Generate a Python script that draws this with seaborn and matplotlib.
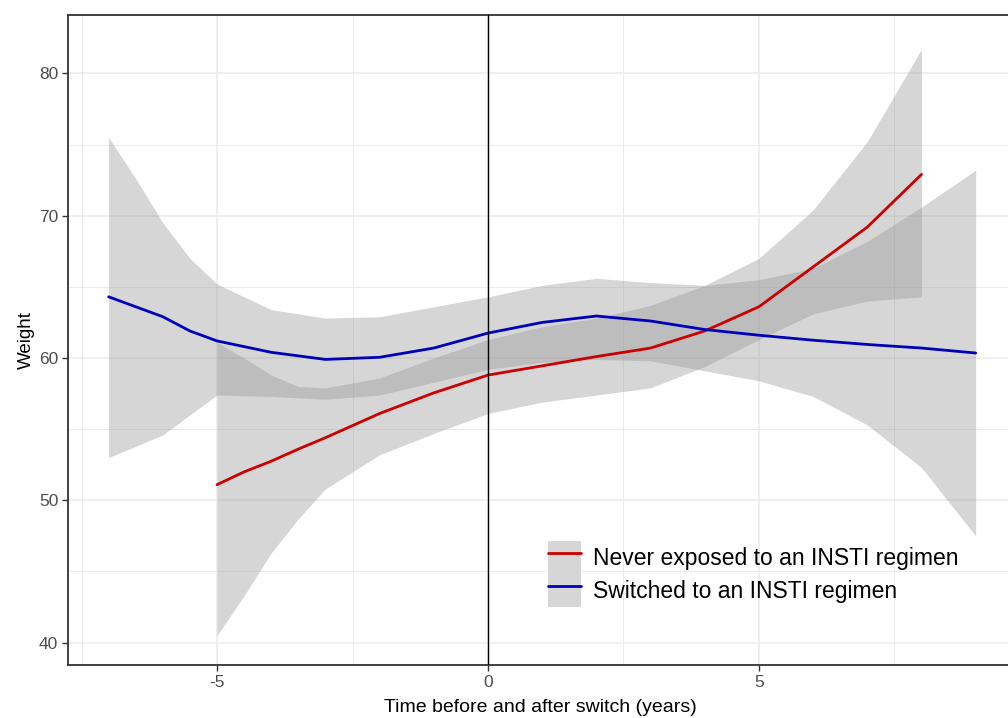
import matplotlib
matplotlib.use("Agg")
import matplotlib.pyplot as plt
import seaborn as sns
from matplotlib.patches import Patch
from matplotlib.lines import Line2D

# ---------------------------
# Data
# ---------------------------

# Never exposed to an INSTI regimen
red_time = [-5, -4.5, -4, -3.5, -3, -2, -1, 0, 1, 2, 3, 4, 5, 6, 7, 8]
red_mean = [51.1, 52.0, 52.75, 53.6, 54.4, 56.1, 57.55, 58.8, 59.45, 60.1, 60.7, 61.9, 63.6, 66.4, 69.2, 72.9]
red_upper = [61.1, 60.0, 58.8, 58.0, 57.9, 58.6, 60.0, 61.3, 62.2, 62.8, 63.7, 65.1, 67.0, 70.4, 75.2, 81.7]
red_lower = [40.5, 43.3, 46.3, 48.7, 50.8, 53.2, 54.7, 56.1, 56.9, 57.4, 57.9, 59.4, 61.3, 63.1, 64.0, 64.3]

# Switched to an INSTI regimen
blue_time = [-7, -6.5, -6, -5.5, -5, -4, -3, -2, -1, 0, 1, 2, 3, 4, 5, 6, 7, 8, 9]
blue_mean = [64.3, 63.6, 62.9, 61.9, 61.2, 60.4, 59.9, 60.05, 60.7, 61.75, 62.5, 62.95, 62.6, 62.0, 61.6, 61.25, 60.95, 60.7, 60.35]
blue_upper = [75.5, 72.6, 69.5, 67.0, 65.2, 63.4, 62.8, 62.9, 63.6, 64.3, 65.1, 65.6, 65.3, 65.1, 65.5, 66.3, 68.2, 70.6, 73.2]
blue_lower = [53.0, 53.8, 54.6, 56.0, 57.4, 57.3, 57.1, 57.4, 58.3, 59.2, 59.7, 59.9, 59.8, 59.1, 58.4, 57.3, 55.3, 52.3, 47.5]

labels = ["Never exposed to an INSTI regimen", "Switched to an INSTI regimen"]
colors = ["#cc0000", "#0000bb"]

x_ticks = [-5, 0, 5]
y_ticks = [40, 50, 60, 70, 80]

# ---------------------------
# Style
# ---------------------------
sns.set_style("white")
plt.rcParams['font.family'] = ['Liberation Sans', 'DejaVu Sans']
plt.rcParams['axes.unicode_minus'] = False

fig = plt.figure(figsize=(10.08, 7.18), dpi=100)
ax = fig.add_axes([68 / 1008, 1 - 665 / 718, 944 / 1008, 650 / 718])

ribbon = "#999999"
ax.fill_between(red_time, red_lower, red_upper, color=ribbon, alpha=0.4, linewidth=0, zorder=2)
ax.fill_between(blue_time, blue_lower, blue_upper, color=ribbon, alpha=0.4, linewidth=0, zorder=2)

sns.lineplot(x=red_time, y=red_mean, color=colors[0], linewidth=2.0, ax=ax, zorder=3)
sns.lineplot(x=blue_time, y=blue_mean, color=colors[1], linewidth=2.0, ax=ax, zorder=3)

ax.axvline(0, color="black", linewidth=1.0, zorder=4)

ax.set_xlim(-7.75, 9.67)
ax.set_ylim(38.43, 84.1)
ax.set_xticks(x_ticks)
ax.set_yticks(y_ticks)
ax.set_xticks([-7.5, -2.5, 2.5, 7.5], minor=True)
ax.set_yticks([45, 55, 65, 75], minor=True)
ax.grid(which="major", color="#ebebeb", linewidth=1.1, zorder=0)
ax.grid(which="minor", color="#ebebeb", linewidth=0.7, zorder=0)
ax.set_axisbelow(True)

ax.tick_params(which="major", bottom=True, left=True, direction="out", length=4.5, width=1,
               color="#333333", labelcolor="#4d4d4d", labelsize=12.5, pad=2.5)
ax.tick_params(which="minor", length=0)
for s in ax.spines.values():
    s.set_color("#333333")
    s.set_linewidth(1.3)

ax.set_xlabel("Time before and after switch (years)", fontsize=14, color="black", labelpad=7)
ax.set_ylabel("Weight", fontsize=13.5, color="black", labelpad=3)

# legend with grey key background, like ggplot
handles = [(Patch(facecolor="#d6d6d6", edgecolor="none"), Line2D([], [], color=c, linewidth=2.0))
           for c in colors]
leg = ax.legend(handles, labels, loc="upper left", bbox_to_anchor=(548 / 1008, 1 - 541 / 718),
                bbox_transform=fig.transFigure, frameon=False, fontsize=16.5,
                borderpad=0, borderaxespad=0, labelspacing=0.0, handlelength=1.45,
                handleheight=1.85, handletextpad=0.5)
for t in leg.get_texts():
    t.set_color("black")

plt.savefig("out.png", dpi=100)
